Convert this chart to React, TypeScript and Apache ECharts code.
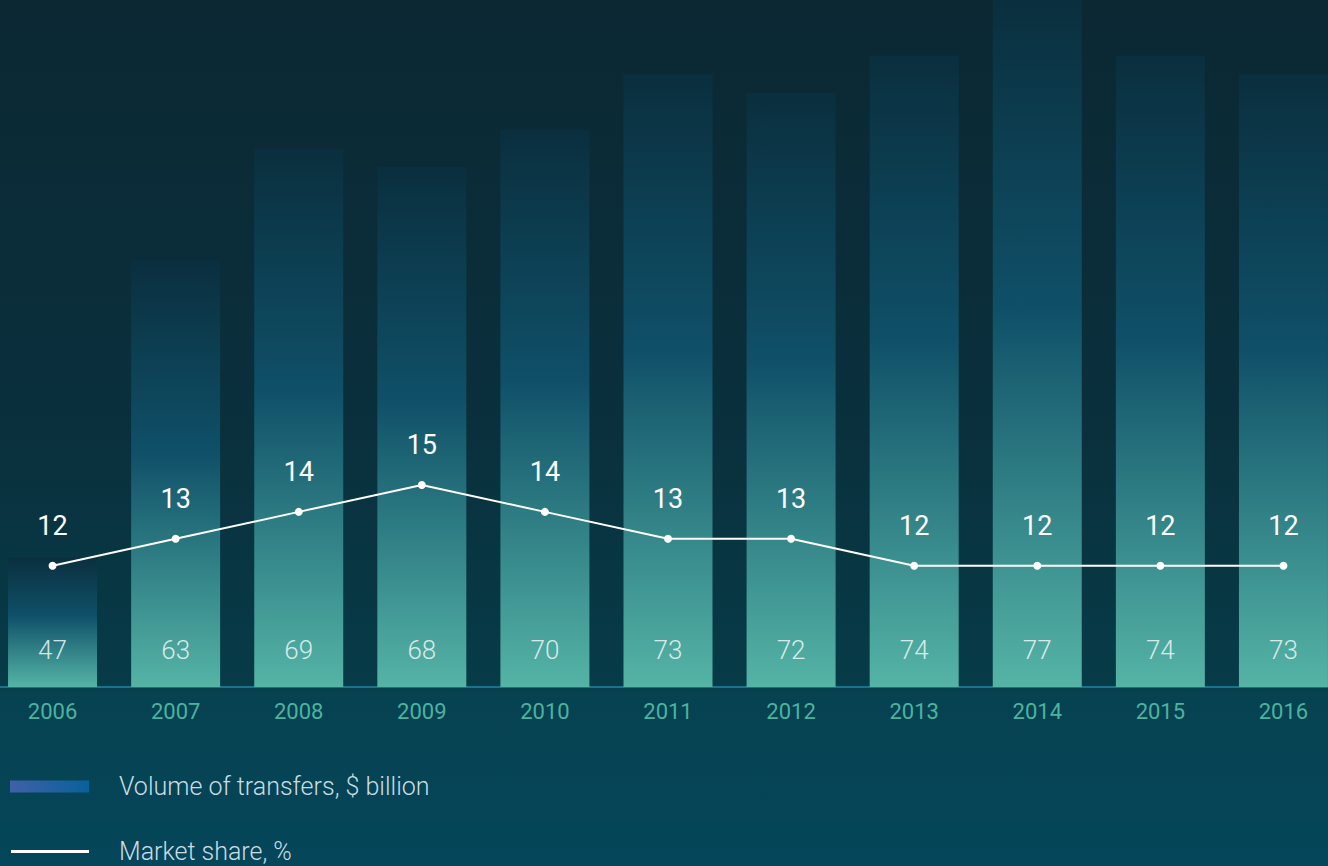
import React, { useEffect, useRef } from "react";
import * as echarts from "echarts";

const years = ["2006", "2007", "2008", "2009", "2010", "2011", "2012", "2013", "2014", "2015", "2016"];
const volumes = [47, 63, 69, 68, 70, 73, 72, 74, 77, 74, 73];
const marketShare = [12, 13, 14, 15, 14, 13, 13, 12, 12, 12, 12];
const barName = "Volume of transfers, $ billion";
const lineName = "Market share, %";

const FONT = "Roboto, 'Open Sans', sans-serif";

export default function App() {
  const ref = useRef<HTMLDivElement>(null);
  useEffect(() => {
    if (!ref.current) return;
    const chart = echarts.init(ref.current, undefined, { renderer: "svg" });
    const barGradient = new echarts.graphic.LinearGradient(0, 0, 0, 1, [
      { offset: 0, color: "#0a2f3e" },
      { offset: 0.45, color: "#0f5068" },
      { offset: 1, color: "#55b4a6" },
    ]);
    const legendGradient = new echarts.graphic.LinearGradient(0, 0, 1, 0, [
      { offset: 0, color: "#4160a8" },
      { offset: 1, color: "#08619a" },
    ]);
    chart.setOption({
      animation: false,
      backgroundColor: new echarts.graphic.LinearGradient(0, 0, 0, 1, [
        { offset: 0, color: "#0b2833" },
        { offset: 0.5, color: "#0a303d" },
        { offset: 0.79, color: "#073b48" },
        { offset: 0.8, color: "#064251" },
        { offset: 1, color: "#05465a" },
      ]),
      textStyle: { fontFamily: FONT },
      grid: { left: 0, right: 0, top: 0, bottom: 179, containLabel: false },
      legend: [
        {
          left: 19,
          top: 774,
          padding: 0,
          itemWidth: 79,
          itemHeight: 12,
          data: [{ name: barName, icon: "rect", itemStyle: { color: legendGradient } }],
          textStyle: { color: "#c9dde3", fontSize: 25, fontWeight: 300, fontFamily: FONT, padding: [0, 0, 0, 25] },
        },
        {
          left: 20,
          top: 839,
          padding: 0,
          itemWidth: 78,
          itemHeight: 3,
          data: [{ name: lineName, icon: "rect", itemStyle: { color: "#ffffff" } }],
          textStyle: { color: "#c9dde3", fontSize: 25, fontWeight: 300, fontFamily: FONT, padding: [0, 0, 0, 25] },
        },
      ],
      xAxis: {
        type: "category",
        data: years,
        axisLine: { lineStyle: { color: "#1a7388", width: 2 } },
        axisTick: { show: false },
        axisLabel: { color: "#4db39f", fontSize: 22, margin: 13, fontFamily: FONT },
      },
      yAxis: [
        { type: "value", min: 40, max: 77, show: false, splitLine: { show: false } },
        { type: "value", min: 7.5, max: 33, show: false, splitLine: { show: false } },
      ],
      series: [
        {
          name: barName,
          type: "bar",
          data: volumes,
          barWidth: 89,
          itemStyle: { color: barGradient },
          label: {
            show: true,
            position: "insideBottom",
            distance: 24,
            color: "rgba(232,244,243,0.9)",
            fontSize: 26,
            fontWeight: 300,
            fontFamily: FONT,
          },
        },
        {
          name: lineName,
          type: "line",
          yAxisIndex: 1,
          data: marketShare,
          symbol: "circle",
          symbolSize: 8,
          itemStyle: { color: "#ffffff" },
          lineStyle: { color: "#ffffff", width: 2 },
          label: {
            show: true,
            position: "top",
            distance: 22,
            color: "#ffffff",
            fontSize: 27,
            fontFamily: FONT,
          },
        },
      ],
    });
    return () => chart.dispose();
  }, []);
  return (
    <div
      ref={ref}
      style={{ position: "absolute", left: -9, top: 0, width: 1354, height: 866 }}
    />
  );
}
